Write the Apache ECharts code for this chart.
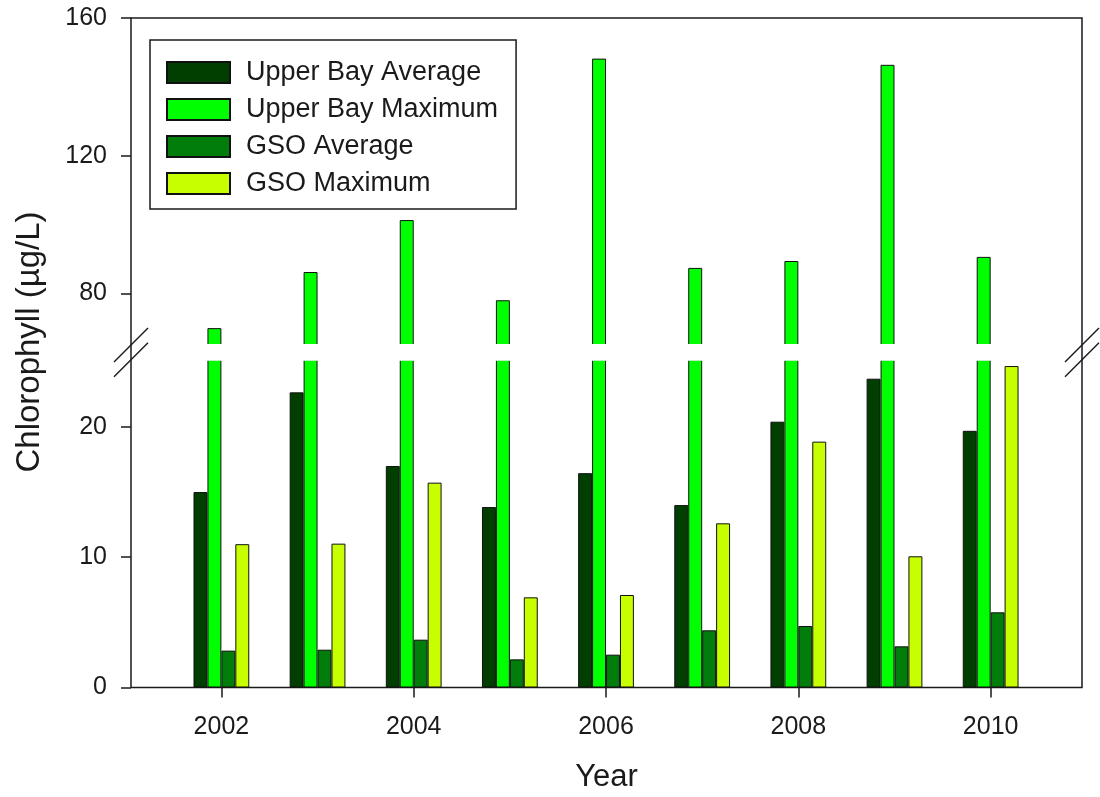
<!DOCTYPE html>
<html>
<head>
<meta charset="utf-8">
<script src="https://cdn.jsdelivr.net/npm/echarts@6/dist/echarts.min.js"></script>
<style>
  html, body { margin: 0; padding: 0; background: #fff; }
  #chart { width: 1100px; height: 797px; }
</style>
</head>
<body>
<div id="chart"></div>
<script>
// Chlorophyll concentrations by year
const years = [2002, 2003, 2004, 2005, 2006, 2007, 2008, 2009, 2010];
const upperBayAverage = [15.0, 22.65, 17.0, 13.85, 16.45, 14.0, 20.4, 23.7, 19.7];
const upperBayMaximum = [69.9, 86.2, 101.3, 78.0, 148.2, 87.4, 89.4, 146.4, 90.6];
const gsoAverage = [2.83, 2.9, 3.67, 2.16, 2.52, 4.39, 4.72, 3.16, 5.77];
const gsoMaximum = [11.0, 11.04, 15.72, 6.92, 7.1, 12.6, 18.87, 10.07, 24.67];

const seriesNames = ['Upper Bay Average', 'Upper Bay Maximum', 'GSO Average', 'GSO Maximum'];
const seriesValues = [upperBayAverage, upperBayMaximum, gsoAverage, gsoMaximum];
const seriesColors = ['#003f00', '#00ff00', '#007d0a', '#c8ff00'];

const yearTicks = [2002, 2004, 2006, 2008, 2010];
const upperTicks = [80, 120, 160];
const lowerTicks = [0, 10, 20];

// Broken value axis: two stacked panels sharing one year axis
const FONT = 'Liberation Sans, Arial, sans-serif';
const INK = '#1a1a1a';
const PLOT_LEFT = 131, PLOT_RIGHT = 1082, PLOT_TOP = 18, PLOT_BOTTOM = 687.5;
const CHART_W = 1100, CHART_H = 797;
const UPPER_MIN = 65, UPPER_MAX = 160, UPPER_BOTTOM = 345;
const LOWER_MIN = 0, LOWER_MAX = 25.15, LOWER_TOP = 359.8;
const X_MIN = 2001.06, X_MAX = 2010.95;

const chart = echarts.init(document.getElementById('chart'), null, { renderer: 'canvas' });

const series = [];
[0, 1].forEach(function (g) {
  seriesNames.forEach(function (name, i) {
    series.push({
      type: 'bar',
      name: name,
      xAxisIndex: g,
      yAxisIndex: g,
      data: years.map(function (yr, k) { return [yr, seriesValues[i][k]]; }),
      barGap: '0%',
      barCategoryGap: '42%',
      clip: true,
      silent: true,
      itemStyle: { color: seriesColors[i], borderColor: '#111', borderWidth: 1 }
    });
  });
});

// Slanted break marks where the value axis is interrupted
function breakMarks(axisX) {
  return [UPPER_BOTTOM, LOWER_TOP].map(function (y) {
    return {
      type: 'line', z: 120,
      shape: { x1: axisX - 17, y1: y + 17, x2: axisX + 17, y2: y - 17 },
      style: { stroke: INK, lineWidth: 1.5 }
    };
  });
}

const tickStyle = { color: INK, width: 1.5 };

chart.setOption({
  animation: false,
  backgroundColor: '#fff',
  textStyle: { fontFamily: FONT },
  grid: [
    { left: PLOT_LEFT, right: CHART_W - PLOT_RIGHT, top: PLOT_TOP, height: UPPER_BOTTOM - PLOT_TOP },
    { left: PLOT_LEFT, right: CHART_W - PLOT_RIGHT, top: LOWER_TOP, bottom: CHART_H - PLOT_BOTTOM },
    { left: PLOT_LEFT, right: CHART_W - PLOT_RIGHT, top: PLOT_TOP, bottom: CHART_H - PLOT_BOTTOM,
      show: true, borderColor: INK, borderWidth: 1.5, backgroundColor: 'transparent' }
  ],
  xAxis: [
    { gridIndex: 0, type: 'value', min: X_MIN, max: X_MAX, show: false },
    {
      gridIndex: 1, type: 'value', min: X_MIN, max: X_MAX,
      axisLine: { show: false },
      splitLine: { show: false },
      axisTick: { show: true, customValues: yearTicks, length: 10, lineStyle: tickStyle },
      axisLabel: { customValues: yearTicks, fontSize: 25, color: INK, margin: 27, fontFamily: FONT,
        formatter: function (v) { return String(v); } },
      name: 'Year', nameLocation: 'middle', nameGap: 74,
      nameTextStyle: { fontSize: 31, color: INK, fontFamily: FONT }
    }
  ],
  yAxis: [
    {
      gridIndex: 0, type: 'value', min: UPPER_MIN, max: UPPER_MAX,
      axisLine: { show: false },
      splitLine: { show: false },
      axisTick: { show: true, customValues: upperTicks, length: 10, lineStyle: tickStyle },
      axisLabel: { customValues: upperTicks, fontSize: 25, color: INK, margin: 24, fontFamily: FONT }
    },
    {
      gridIndex: 1, type: 'value', min: LOWER_MIN, max: LOWER_MAX,
      axisLine: { show: false },
      splitLine: { show: false },
      axisTick: { show: true, customValues: lowerTicks, length: 10, lineStyle: tickStyle },
      axisLabel: { customValues: lowerTicks, fontSize: 25, color: INK, margin: 24, fontFamily: FONT }
    }
  ],
  legend: {
    data: seriesNames,
    orient: 'vertical',
    left: 150, top: 40,
    itemWidth: 63, itemHeight: 21, itemGap: 10,
    padding: [19, 18, 12, 16],
    borderColor: INK, borderWidth: 1.5,
    backgroundColor: '#fff',
    icon: 'rect',
    selectedMode: false,
    formatter: function (name) { return '{g|}' + name; },
    textStyle: { fontSize: 27, color: INK, fontFamily: FONT, rich: { g: { width: 11 } } }
  },
  graphic: [
    {
      type: 'rect', z: 110,
      shape: { x: PLOT_LEFT + 1, y: UPPER_BOTTOM - 1, width: PLOT_RIGHT - PLOT_LEFT - 2, height: LOWER_TOP - UPPER_BOTTOM + 2 },
      style: { fill: '#fff' }
    }
  ].concat(breakMarks(PLOT_LEFT), breakMarks(PLOT_RIGHT), [
    {
      type: 'text', z: 120,
      x: 30, y: 342, rotation: Math.PI / 2,
      style: { text: 'Chlorophyll (\u00b5g/L)', font: '33px ' + FONT, fill: INK, align: 'center', verticalAlign: 'middle' }
    }
  ]),
  series: series
});
</script>
</body>
</html>
